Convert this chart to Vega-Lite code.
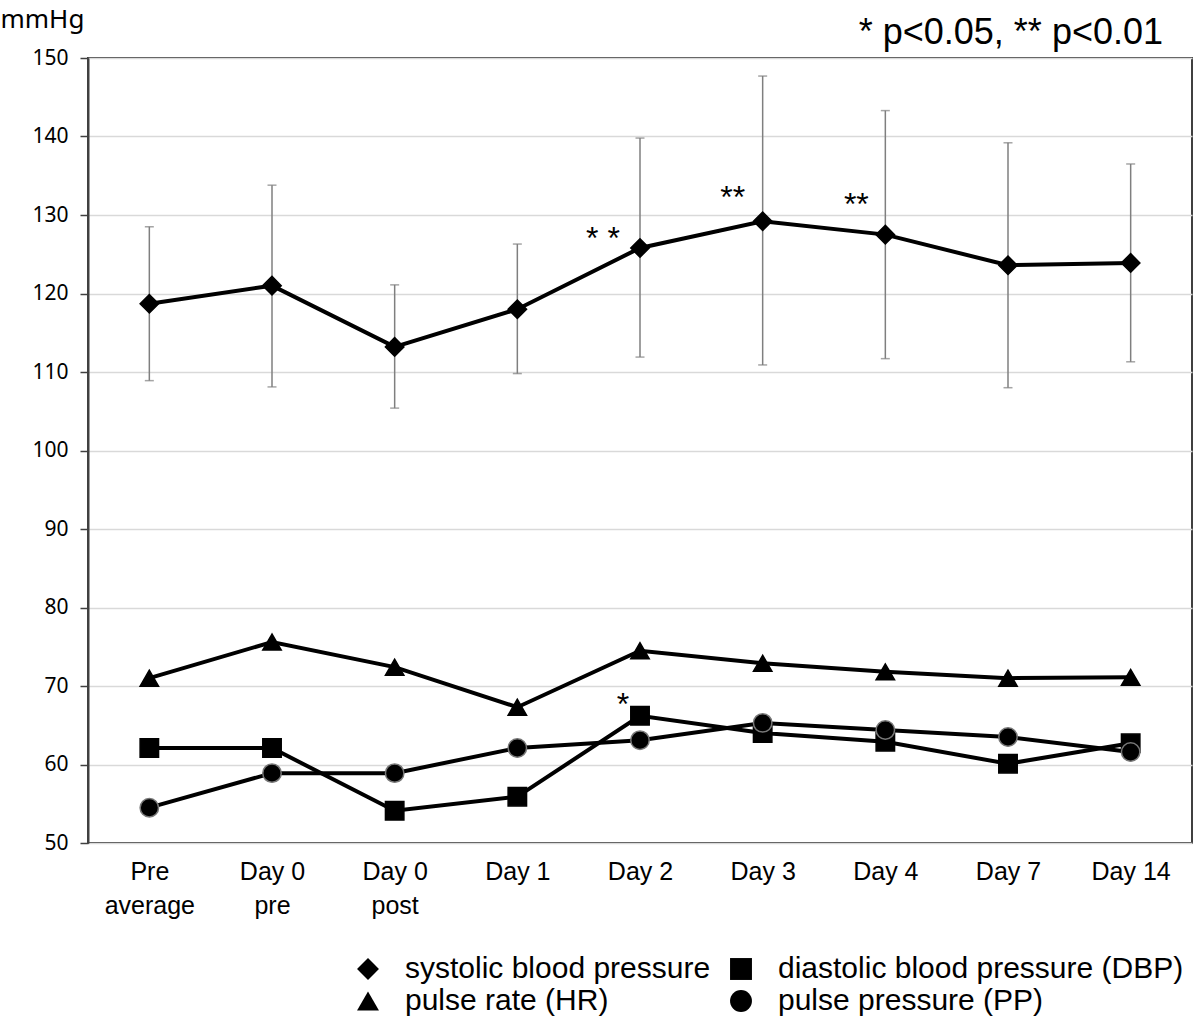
{
  "$schema": "https://vega.github.io/schema/vega-lite/v6.json",
  "autosize": "none",
  "padding": {"left": 88, "top": 58, "right": 8, "bottom": 182},
  "width": 1104,
  "height": 785,
  "background": "white",
  "config": {
    "view": {"stroke": "#404040", "strokeWidth": 2},
    "font": "Liberation Sans"
  },
  "title": {
    "text": "* p<0.05, ** p<0.01",
    "anchor": "end",
    "frame": "group",
    "orient": "top",
    "fontSize": 36,
    "fontWeight": "normal",
    "font": "Liberation Sans",
    "color": "black",
    "offset": -46,
    "dx": -29
  },
  "datasets": {
    "bp": [
      {"time": "Pre|average", "series": "systolic blood pressure", "mean": 118.7, "lo": 108.9, "hi": 128.5},
      {"time": "Day 0|pre", "series": "systolic blood pressure", "mean": 121.0, "lo": 108.1, "hi": 133.8},
      {"time": "Day 0|post", "series": "systolic blood pressure", "mean": 113.2, "lo": 105.4, "hi": 121.1},
      {"time": "Day 1", "series": "systolic blood pressure", "mean": 118.0, "lo": 109.8, "hi": 126.3},
      {"time": "Day 2", "series": "systolic blood pressure", "mean": 125.8, "lo": 111.9, "hi": 139.8},
      {"time": "Day 3", "series": "systolic blood pressure", "mean": 129.2, "lo": 110.9, "hi": 147.7},
      {"time": "Day 4", "series": "systolic blood pressure", "mean": 127.5, "lo": 111.7, "hi": 143.3},
      {"time": "Day 7", "series": "systolic blood pressure", "mean": 123.6, "lo": 108.0, "hi": 139.2},
      {"time": "Day 14", "series": "systolic blood pressure", "mean": 123.9, "lo": 111.3, "hi": 136.5},
      {"time": "Pre|average", "series": "diastolic blood pressure (DBP)", "mean": 62.1},
      {"time": "Day 0|pre", "series": "diastolic blood pressure (DBP)", "mean": 62.1},
      {"time": "Day 0|post", "series": "diastolic blood pressure (DBP)", "mean": 54.1},
      {"time": "Day 1", "series": "diastolic blood pressure (DBP)", "mean": 55.9},
      {"time": "Day 2", "series": "diastolic blood pressure (DBP)", "mean": 66.2},
      {"time": "Day 3", "series": "diastolic blood pressure (DBP)", "mean": 64.0},
      {"time": "Day 4", "series": "diastolic blood pressure (DBP)", "mean": 62.9},
      {"time": "Day 7", "series": "diastolic blood pressure (DBP)", "mean": 60.1},
      {"time": "Day 14", "series": "diastolic blood pressure (DBP)", "mean": 62.7},
      {"time": "Pre|average", "series": "pulse rate (HR)", "mean": 71.0},
      {"time": "Day 0|pre", "series": "pulse rate (HR)", "mean": 75.6},
      {"time": "Day 0|post", "series": "pulse rate (HR)", "mean": 72.4},
      {"time": "Day 1", "series": "pulse rate (HR)", "mean": 67.3},
      {"time": "Day 2", "series": "pulse rate (HR)", "mean": 74.5},
      {"time": "Day 3", "series": "pulse rate (HR)", "mean": 72.9},
      {"time": "Day 4", "series": "pulse rate (HR)", "mean": 71.8},
      {"time": "Day 7", "series": "pulse rate (HR)", "mean": 71.0},
      {"time": "Day 14", "series": "pulse rate (HR)", "mean": 71.1},
      {"time": "Pre|average", "series": "pulse pressure (PP)", "mean": 54.5},
      {"time": "Day 0|pre", "series": "pulse pressure (PP)", "mean": 58.9},
      {"time": "Day 0|post", "series": "pulse pressure (PP)", "mean": 58.9},
      {"time": "Day 1", "series": "pulse pressure (PP)", "mean": 62.1},
      {"time": "Day 2", "series": "pulse pressure (PP)", "mean": 63.1},
      {"time": "Day 3", "series": "pulse pressure (PP)", "mean": 65.3},
      {"time": "Day 4", "series": "pulse pressure (PP)", "mean": 64.4},
      {"time": "Day 7", "series": "pulse pressure (PP)", "mean": 63.5},
      {"time": "Day 14", "series": "pulse pressure (PP)", "mean": 61.6}
    ],
    "stars": [
      {"time": "Day 2", "y": 127.0, "label": "* *", "shift": -37},
      {"time": "Day 3", "y": 132.2, "label": "**", "shift": -30},
      {"time": "Day 4", "y": 131.3, "label": "**", "shift": -29},
      {"time": "Day 2", "y": 67.6, "label": "*", "shift": -17}
    ]
  },
  "data": {"name": "bp"},
  "encoding": {
    "x": {
      "field": "time",
      "type": "ordinal",
      "sort": ["Pre|average", "Day 0|pre", "Day 0|post", "Day 1", "Day 2", "Day 3", "Day 4", "Day 7", "Day 14"],
      "scale": {"type": "point", "padding": 0.5},
      "axis": {
        "title": null,
        "labelExpr": "split(datum.label, '|')",
        "labelAngle": 0,
        "labelFont": "Liberation Sans",
        "labelFontSize": 25,
        "labelColor": "black",
        "labelPadding": 16,
        "labelLineHeight": 34,
        "labelBaseline": "top",
        "ticks": false,
        "domain": false,
        "grid": false
      }
    }
  },
  "layer": [
    {
      "transform": [{"filter": "isValid(datum.lo)"}],
      "mark": {"type": "rule", "color": "#7f7f7f", "strokeWidth": 1.5},
      "encoding": {
        "y": {
          "field": "lo",
          "type": "quantitative",
          "scale": {"domain": [50, 150], "nice": false, "zero": false},
          "axis": {
            "title": "mmHg",
            "titleAngle": 0,
            "titleAlign": "left",
            "titleBaseline": "middle",
            "titleX": -88,
            "titleY": -39,
            "titleFont": "Noto Sans",
            "titleFontSize": 26,
            "titleFontWeight": "normal",
            "titleColor": "black",
            "values": [50, 60, 70, 80, 90, 100, 110, 120, 130, 140, 150],
            "labelFont": "Noto Sans",
            "labelFontSize": 21,
            "labelColor": "black",
            "labelPadding": 12,
            "tickSize": 8,
            "tickColor": "#404040",
            "tickWidth": 1.5,
            "domainColor": "#404040",
            "domainWidth": 2,
            "gridColor": "#d9d9d9",
            "gridWidth": 1.5
          }
        },
        "y2": {"field": "hi"}
      }
    },
    {
      "transform": [{"filter": "isValid(datum.lo)"}],
      "mark": {"type": "tick", "color": "#7f7f7f", "thickness": 1.5, "size": 9},
      "encoding": {"y": {"field": "lo", "type": "quantitative"}}
    },
    {
      "transform": [{"filter": "isValid(datum.hi)"}],
      "mark": {"type": "tick", "color": "#7f7f7f", "thickness": 1.5, "size": 9},
      "encoding": {"y": {"field": "hi", "type": "quantitative"}}
    },
    {
      "mark": {"type": "line", "color": "black", "strokeWidth": 4},
      "encoding": {
        "y": {"field": "mean", "type": "quantitative"},
        "detail": {"field": "series"}
      }
    },
    {
      "mark": {"type": "point", "filled": true, "color": "black", "size": 340, "opacity": 1},
      "encoding": {
        "y": {"field": "mean", "type": "quantitative"},
        "stroke": {
          "condition": {"test": "datum.series == 'pulse pressure (PP)'", "value": "#777777"},
          "value": "black"
        },
        "strokeWidth": {"value": 1.5},
        "shape": {
          "field": "series",
          "type": "nominal",
          "scale": {
            "domain": ["systolic blood pressure", "diastolic blood pressure (DBP)", "pulse rate (HR)", "pulse pressure (PP)"],
            "range": ["diamond", "square", "triangle-up", "circle"]
          },
          "legend": {
            "title": null,
            "orient": "none",
            "legendX": 265,
            "legendY": 896,
            "columns": 2,
            "direction": "horizontal",
            "columnPadding": 15,
            "rowPadding": 2,
            "symbolSize": 480,
            "symbolFillColor": "black",
            "symbolStrokeColor": "black",
            "symbolOpacity": 1,
            "labelFont": "Liberation Sans",
            "labelFontSize": 30,
            "labelColor": "black",
            "labelOffset": 22,
            "labelLimit": 0
          }
        }
      }
    },
    {
      "data": {"name": "stars"},
      "mark": {"type": "text", "fontSize": 32, "font": "Liberation Sans", "color": "black", "baseline": "middle", "align": "center"},
      "encoding": {
        "y": {"field": "y", "type": "quantitative"},
        "text": {"field": "label"},
        "xOffset": {"field": "shift", "type": "quantitative", "scale": null}
      }
    }
  ]
}
